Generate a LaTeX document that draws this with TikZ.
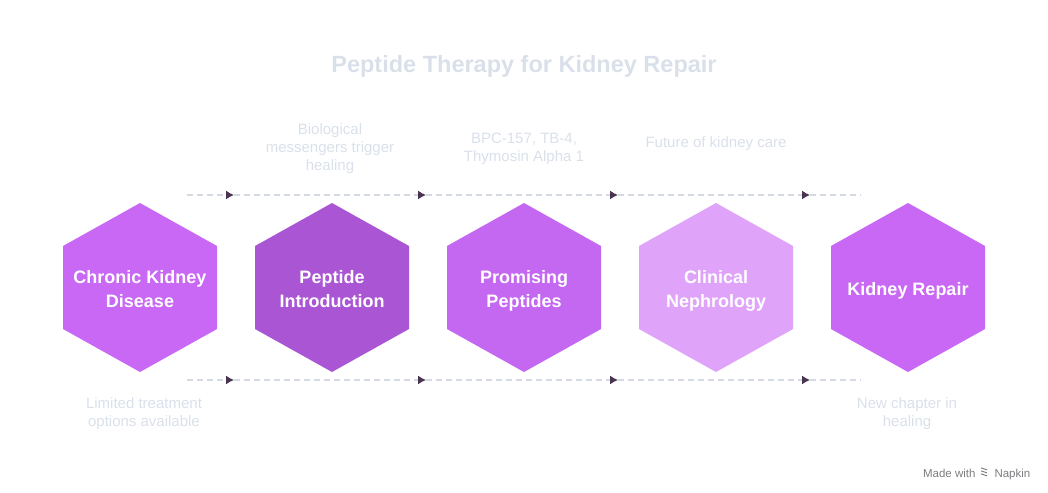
\documentclass[tikz,border=0pt]{standalone}
\usepackage{fontspec}
\setmainfont{Liberation Sans}
\usetikzlibrary{arrows.meta,positioning}
\definecolor{hexviolet}{HTML}{C868F4}
\definecolor{hexdeep}{HTML}{AA55D4}
\definecolor{hexmid}{HTML}{C467F1}
\definecolor{hexpale}{HTML}{DFA3F9}
\definecolor{notegray}{HTML}{DAE0EA}
\definecolor{dashgray}{HTML}{D5D9E2}
\definecolor{tipdark}{HTML}{4A3550}
\definecolor{footgray}{HTML}{7C7C80}

\begin{document}
\begin{tikzpicture}[x=1pt,y=-1pt,>={Latex[length=8pt,width=9pt,color=tipdark]}]
\tikzset{hexlabel/.style={text=white,font=\fontsize{18}{24}\selectfont\bfseries,align=center},
  note/.style={text=notegray,font=\fontsize{15}{18}\selectfont,align=center},
  flow/.style={dashgray,dash pattern=on 6pt off 4pt,line width=1.3pt},
  foot/.style={text=footgray,font=\fontsize{11.5}{13}\selectfont}}
\useasboundingbox (0,0) rectangle (1048,492);
\node[font=\fontsize{23.5}{28}\selectfont\bfseries,text=notegray] (title) at (524,66) {Peptide Therapy for Kidney Repair};
% hexagon row
\foreach \cx/\col/\nm/\txt in {140/hexviolet/h1/{Chronic Kidney\\Disease},332/hexdeep/h2/{Peptide\\Introduction},
  524/hexmid/h3/{Promising\\Peptides},716/hexpale/h4/{Clinical\\Nephrology},908/hexviolet/h5/{Kidney Repair}}{
  \fill[\col] (\cx,287.5) +(0,-84.5) -- +(77,-41.5) -- +(77,41.5) -- +(0,84.5) -- +(-77,41.5) -- +(-77,-41.5) -- cycle;
  \node[hexlabel,text depth=0pt] (\nm) at (\cx,289) {\txt};
}
% dashed flow lines
\foreach \i/\x in {0/187,1/234,2/426,3/618,4/810,5/861}{
  \coordinate (t\i) at (\x,195);
  \coordinate (b\i) at (\x,380);
}
\foreach \a/\b in {0/1,1/2,2/3,3/4}{
  \draw[flow,->] (t\a) -- (t\b);
  \draw[flow,->] (b\a) -- (b\b);
}
\draw[flow] (t4) -- (t5);
\draw[flow] (b4) -- (b5);
% notes
\node[note] (n2) at (330,149) {Biological\\messengers trigger\\healing};
\node[note] (n3) at (524,149) {BPC-157, TB-4,\\Thymosin Alpha 1};
\node[note] (n4) at (716,144) {Future of kidney care};
\node[note] (n1) at (144,414) {Limited treatment\\options available};
\node[note] (n5) at (907,414) {New chapter in\\healing};
% footer
\node[foot,anchor=base east] (made) at (979,477) {Made with};
\node[foot,anchor=base west] (napkin) at (991,477) {Napkin};
\foreach \dy in {-3,0,3}
  \draw[footgray,line width=0.9pt] ([xshift=2pt,yshift=\dy pt+2pt]made.east) -- ([xshift=8pt,yshift=\dy pt]made.east);
\end{tikzpicture}
\end{document}
